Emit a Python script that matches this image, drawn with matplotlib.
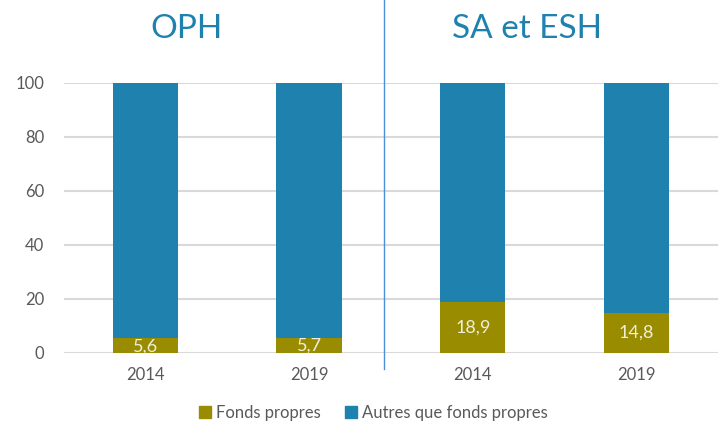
import matplotlib.pyplot as plt
from matplotlib.patches import Patch

years = ["2014", "2019", "2014", "2019"]
groups = ["OPH", "SA et ESH"]
fonds_propres = [5.6, 5.7, 18.9, 14.8]
autres = [100 - v for v in fonds_propres]
labels = ["5,6", "5,7", "18,9", "14,8"]

olive = "#9A8C00"
blue = "#1F82AE"
grey = "#595959"

plt.rcParams["font.family"] = ["Lato", "DejaVu Sans"]

fig = plt.figure(figsize=(7.18, 4.32), dpi=100)
ax = fig.add_axes([0.089, 0.183, 0.911, 0.625])

x = list(range(len(years)))
ax.bar(x, fonds_propres, width=0.4, color=olive, zorder=3)
ax.bar(x, autres, width=0.4, bottom=fonds_propres, color=blue, zorder=3)

for xi, v, lab in zip(x, fonds_propres, labels):
    ax.text(xi, v / 2 if v > 10 else v / 2 - 0.3, lab, ha="center", va="center",
            color="#EEEEDD", fontsize=13, zorder=4)

ax.set_xlim(-0.5, 3.5)
ax.set_ylim(0, 100)
ax.set_yticks(range(0, 101, 20))
ax.set_xticks(x)
ax.set_xticklabels(years)
ax.tick_params(length=0, labelsize=12, colors=grey, pad=10)
ax.tick_params(axis="y", pad=14)
ax.grid(axis="y", color="#D9D9D9", linewidth=1.5, zorder=0)
for s in ax.spines.values():
    s.set_visible(False)

# separator between the two groups
ax.plot([1.46, 1.46], [-0.06, 1.31], transform=ax.get_xaxis_transform(),
        color="#4A90D9", linewidth=1, clip_on=False)

ax.text(0.25, 1.2, groups[0], transform=ax.get_xaxis_transform(),
        ha="center", va="center", fontsize=24, color=blue)
ax.text(2.33, 1.2, groups[1], transform=ax.get_xaxis_transform(),
        ha="center", va="center", fontsize=24, color=blue)

handles = [Patch(color=olive, label="Fonds propres"),
           Patch(color=blue, label="Autres que fonds propres")]
fig.legend(handles=handles, loc="center", bbox_to_anchor=(0.52, 0.045), ncol=2,
           frameon=False, fontsize=12, labelcolor=grey, handlelength=0.7,
           handleheight=0.7, handletextpad=0.3, columnspacing=1.5)

fig.savefig("out.png", dpi=100)
